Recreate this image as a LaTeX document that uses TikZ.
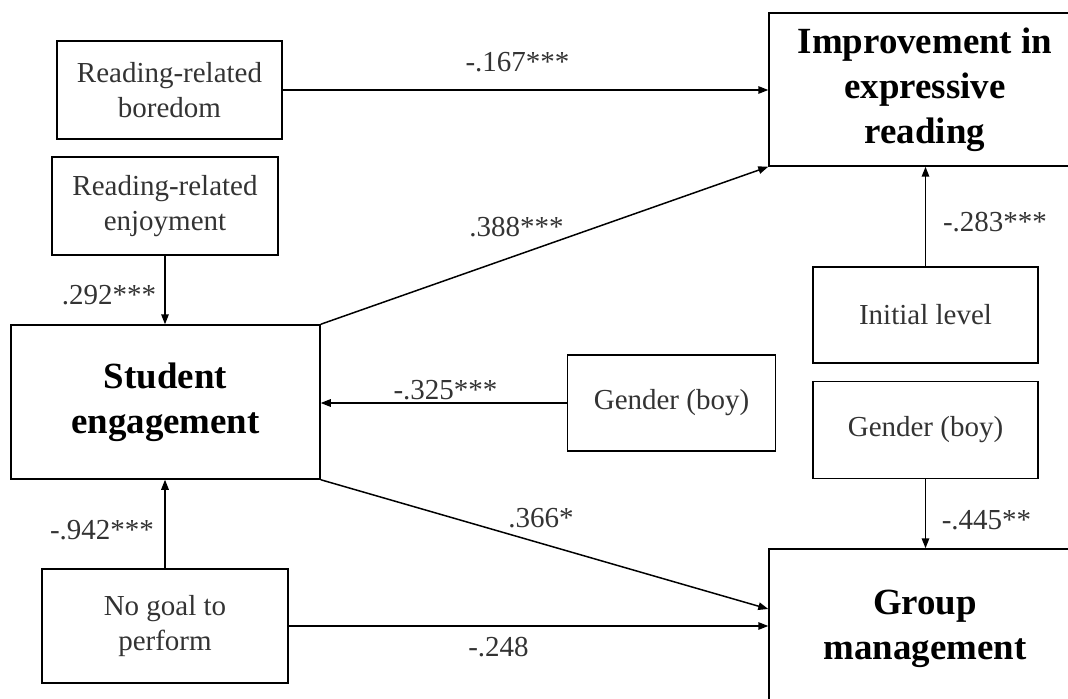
\documentclass[tikz,border=0pt]{standalone}
\usepackage{fontspec}
\setmainfont{Liberation Serif}
\usetikzlibrary{positioning,arrows.meta,calc}
\tikzset{
  var/.style={draw=black,line width=0.85pt,align=center,inner sep=0pt,
    text=black!80,font=\fontsize{16.5}{19.9}\selectfont},
  outc/.style={var,text=black,font=\fontsize{21}{25.5}\selectfont\bfseries},
  path/.style={-{Triangle[length=2mm,width=1.5mm]},line width=0.85pt},
  coef/.style={text=black!80,font=\fontsize{16.5}{19.9}\selectfont,inner sep=0pt},
}
\begin{document}
\begin{tikzpicture}[scale=1.0]
  \useasboundingbox (0,0) rectangle (21.36,13.96);
  % predictors
  \node[var,minimum width=4.5cm,minimum height=1.96cm] (bored) at (3.39,12.16) {Reading-related\\boredom};
  \node[var,minimum width=4.52cm,minimum height=1.96cm] (enjoy) at (3.30,9.84) {Reading-related\\enjoyment};
  \node[outc,minimum width=6.18cm,minimum height=3.08cm] (engage) at (3.31,5.92) {Student\\engagement};
  \node[var,minimum width=4.92cm,minimum height=2.28cm] (nogoal) at (3.30,1.44) {No goal to\\perform};
  \node[var,minimum width=4.16cm,minimum height=1.92cm] (genderL) at (13.43,5.90) {Gender (boy)};
  % outcomes and controls
  \node[outc,minimum width=6.24cm,minimum height=3.06cm] (improve) at (18.50,12.17) {Improvement in\\expressive\\reading};
  \node[var,minimum width=4.5cm,minimum height=1.92cm] (initial) at (18.51,7.66) {Initial level};
  \node[var,minimum width=4.5cm,minimum height=1.94cm] (genderR) at (18.51,5.36) {Gender (boy)};
  \node[outc,minimum width=6.24cm,minimum height=3.2cm] (group) at (18.50,1.38) {Group\\management};
  % paths
  \draw[path] (bored.east) -- (bored.east -| improve.west);
  \draw[path] (enjoy.south) -- (enjoy.south |- engage.north);
  \draw[path] (engage.north east) -- (improve.south west);
  \draw[path] (genderL.west) -- (genderL.west -| engage.east);
  \draw[path] (engage.south east) -- ($(group.west)+(0,0.4)$);
  \draw[path] (nogoal.east) -- (nogoal.east -| group.west);
  \draw[path] (nogoal.north) -- (nogoal.north |- engage.south);
  \draw[path] (initial.north) -- (initial.north |- improve.south);
  \draw[path] (genderR.south) -- (genderR.south |- group.north);
  % coefficients
  \node[coef] (c1) at (10.35,12.72) {-.167***};
  \node[coef] (c2) at (10.33,9.42) {.388***};
  \node[coef] (c3) at (8.91,6.16) {-.325***};
  \node[coef] (c4) at (10.82,3.60) {.366*};
  \node[coef] (c5) at (9.97,1.02) {-.248};
  \node[coef] (c6) at (2.18,8.06) {.292***};
  \node[coef] (c7) at (2.04,3.36) {-.942***};
  \node[coef] (c8) at (19.90,9.52) {-.283***};
  \node[coef] (c9) at (19.73,3.56) {-.445**};
\end{tikzpicture}
\end{document}
